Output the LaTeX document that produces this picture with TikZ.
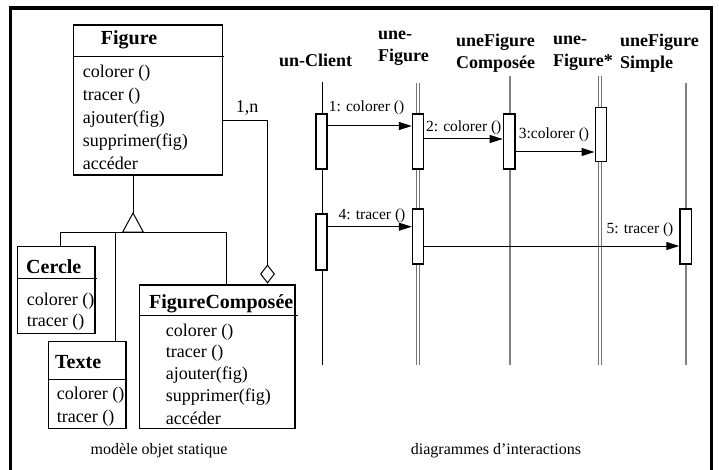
\documentclass[tikz,border=0pt]{standalone}
\usepackage{fontspec}
\setmainfont{Liberation Serif}
\usetikzlibrary{arrows.meta,shapes.geometric}
\newcommand\fsz[2]{\fontsize{#1}{#2}\selectfont}
\begin{document}
\begin{tikzpicture}[x=1pt,y=-1pt,
  classbox/.style={draw, line width=1.4pt, inner sep=0pt, outer sep=0pt, anchor=north west},
  meth/.style={inner sep=0pt, anchor=west, font=\fsz{18}{23}, text height=13pt, text depth=4pt},
  cname/.style={inner sep=0pt, font=\fsz{20}{24}\bfseries, text height=14pt, text depth=4pt},
  hdr/.style={inner sep=0pt, font=\fsz{18}{22}\bfseries, align=left},
  lbl/.style={inner sep=0pt, font=\fsz{15.5}{18}},
  caption/.style={inner sep=0pt, font=\fsz{16}{19}},
  act/.style={draw, line width=1.4pt, fill=white, minimum width=11pt, minimum height=55pt, inner sep=0pt},
  life/.style={draw=gray, line width=1.2pt},
  lifedbl/.style={draw=black!55, line width=1pt, double=white, double distance=1.2pt},
  msg/.style={line width=1pt, -{Triangle[length=13pt,width=8pt]}},
  sepline/.style={line width=1pt},
  link/.style={line width=1pt}]
\useasboundingbox (0,0) rectangle (719,470);

% ---------- class Figure ----------
\node[classbox, minimum width=149.4pt, minimum height=150pt] (fig) at (73.3,25) {};
\draw[sepline] (fig.west |- 0,56.7) -- (224,56.7);
\node[cname] (figT) at (129,40) {Figure};
\node[meth] (fm1) at (82.7,73) {colorer ()};
\node[meth] (fm2) at (82.7,96) {tracer ()};
\node[meth] (fm3) at (82.7,119) {ajouter(fig)};
\node[meth] (fm4) at (82.7,142) {supprimer(fig)};
\node[meth] (fm5) at (82.7,165) {accéder};

% ---------- class Cercle ----------
\node[classbox, minimum width=77.7pt, minimum height=86.6pt] (cercle) at (17.3,246.7) {};
\draw[sepline] (cercle.west |- 0,278.3) -- (96.7,278.3);
\node[cname, anchor=west] (cercleT) at (26,268) {Cercle};
\node[meth] (cm1) at (26.7,301) {colorer ()};
\node[meth] (cm2) at (26.7,322) {tracer ()};

% ---------- class Texte ----------
\node[classbox, minimum width=77.7pt, minimum height=86.6pt] (texte) at (48.3,341.7) {};
\draw[sepline] (texte.west |- 0,379.3) -- (127.3,379.3);
\node[cname, anchor=west] (texteT) at (55,363) {Texte};
\node[meth] (tm1) at (56.7,395) {colorer ()};
\node[meth] (tm2) at (56.7,418) {tracer ()};

% ---------- class FigureComposée ----------
\node[classbox, minimum width=155.7pt, minimum height=143.3pt] (figcomp) at (139.3,285) {};
\draw[sepline] (figcomp.west |- 0,315.7) -- (298,315.7);
\node[cname, anchor=west] (figcompT) at (149,303) {FigureComposée};
\node[meth] (gm1) at (165.7,331.5) {colorer ()};
\node[meth] (gm2) at (165.7,353) {tracer ()};
\node[meth] (gm3) at (165.7,375) {ajouter(fig)};
\node[meth] (gm4) at (165.7,397) {supprimer(fig)};
\node[meth] (gm5) at (165.7,420) {accéder};

% ---------- generalisation ----------
\coordinate (gapex) at (133,213);
\coordinate (busL) at (60.7,232);
\coordinate (busM) at (115,232);
\coordinate (busR) at (226.7,232);
\draw[link] (fig.south -| gapex) -- (gapex);
\draw[link, line join=miter] (gapex) -- (122.7,232) -- (143.3,232) -- cycle;
\draw[link] (busL) -- (busR);
\draw[link] (busL) -- (busL |- cercle.north);
\draw[link] (busM) -- (busM |- texte.north);
\draw[link] (busR) -- (busR |- figcomp.north);

% ---------- aggregation ----------
\node[draw, diamond, line width=1pt, minimum width=14pt, minimum height=18pt, inner sep=0pt] (agg) at (267.5,274) {};
\draw[link] (fig.east |- 0,121) -| (agg.north);
\node[meth, anchor=center] (mult) at (247,108) {1,n};

% ---------- interaction diagram: objects ----------
\node[hdr, anchor=west] (hClient) at (279,60) {un-Client};
\node[hdr, anchor=west] (hFig) at (378,48.5) {une-\\Figure};
\node[hdr, align=center] (hComp) at (495.5,53) {uneFigure\\Composée};
\node[hdr, anchor=west] (hFigS) at (553,53) {une-\\Figure*};
\node[hdr, anchor=west] (hSimple) at (620,53) {uneFigure\\Simple};

% lifelines
\draw[line width=1pt] (322,82) -- (322,365);
\draw[lifedbl] (418,83) -- (418,365);
\draw[life] (510,76) -- (510,365);
\draw[lifedbl] (600,76) -- (600,365);
\draw[life] (686,83) -- (686,365);

% activations
\node[act] (c1) at (321.5,141.5) {};
\node[act, minimum height=56pt] (c2) at (321.5,242) {};
\node[act] (f1) at (418,141.5) {};
\node[act] (f2) at (418,236.5) {};
\node[act, minimum width=11.7pt] (k1) at (509.2,141.5) {};
\node[act, line width=1pt, minimum height=54.4pt] (s1) at (600.5,134.5) {};
\node[act, minimum width=11.7pt] (p1) at (685.8,236.4) {};

% messages
\draw[msg] (c1.east |- 0,126) -- (f1.west |- 0,126);
\draw[msg] (f1.east |- 0,139) -- (k1.west |- 0,139);
\draw[msg] (k1.east |- 0,152) -- (s1.west |- 0,152);
\draw[msg] (c2.east |- 0,226.7) -- (f2.west |- 0,226.7);
\draw[msg] (f2.east |- 0,246) -- (p1.west |- 0,246);

\node[lbl] (l1) at (366.5,108) {1: colorer ()};
\node[lbl] (l2) at (463.7,128) {2: colorer ()};
\node[lbl] (l3) at (554,135) {3:colorer ()};
\node[lbl] (l4) at (372,216) {4: tracer ()};
\node[lbl] (l5) at (640,230) {5: tracer ()};

% captions
\node[caption] (capL) at (159,451) {modèle objet statique};
\node[caption] (capR) at (496,451) {diagrammes d’interactions};

% frame (open at the bottom)
\draw[line width=3.5pt] (10.5,470) -- (10.5,8) -- (711.5,8) -- (711.5,470);
\end{tikzpicture}
\end{document}
